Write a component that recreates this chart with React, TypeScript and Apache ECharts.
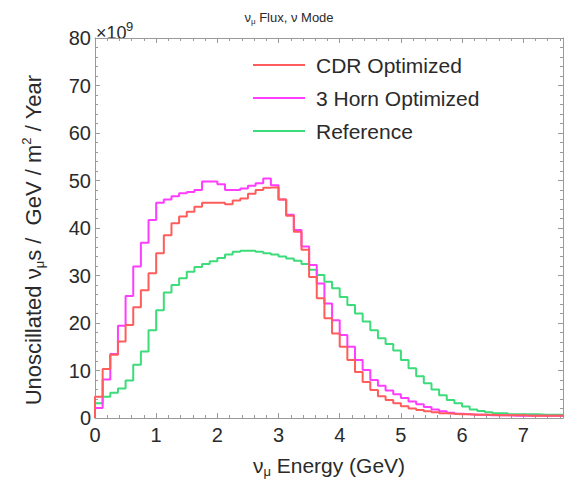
import { useEffect, useRef } from "react";
import * as echarts from "echarts";

const BIN_WIDTH = 0.125;
const X_MIN = 0;
const X_MAX = 7.65;
const Y_MIN = 0;
const Y_MAX = 80;
const xTickLabels = [0, 1, 2, 3, 4, 5, 6, 7];
const yTickLabels = [0, 10, 20, 30, 40, 50, 60, 70, 80];

const seriesNames = ["CDR Optimized", "3 Horn Optimized", "Reference"];
const seriesColors = ["#ff5c5c", "#ff3dff", "#3ddc7a"];

// values in units of 1e9 per bin of 0.125 GeV, starting at 0 GeV
const cdrOptimized = [
  4.5, 10.3, 13.3, 16.1, 19.6, 23.3, 26.9, 30.5, 34.7, 38.5,
  41.0, 42.4, 43.4, 44.5, 45.3, 45.3, 45.3, 45.0, 45.8, 46.2,
  47.2, 48.0, 48.5, 48.6, 46.0, 42.6, 39.2, 35.4, 29.7, 25.2,
  21.0, 17.8, 15.0, 12.2, 9.7, 7.6, 5.9, 4.6, 3.8, 3.1,
  2.5, 2.0, 1.7, 1.4, 1.2, 1.0, 0.9, 0.8, 0.8, 0.7,
  0.7, 0.7, 0.6, 0.6, 0.6, 0.6, 0.5, 0.5, 0.5, 0.5,
  0.5, 0.5,
];
const horn3Optimized = [
  2.1, 8.1, 13.5, 19.4, 25.7, 31.9, 36.9, 41.7, 45.3, 46.0,
  46.7, 47.3, 47.6, 48.0, 49.8, 49.8, 49.2, 48.0, 48.0, 48.3,
  48.9, 49.4, 50.4, 49.0, 46.0, 42.8, 39.6, 36.1, 32.2, 28.3,
  24.1, 20.6, 17.5, 15.0, 12.2, 10.1, 8.0, 6.8, 5.8, 5.0,
  4.2, 3.5, 2.9, 2.3, 1.8, 1.4, 1.1, 0.9, 0.8, 0.7,
  0.7, 0.6, 0.6, 0.6, 0.5, 0.5, 0.5, 0.5, 0.5, 0.5,
  0.5, 0.5,
];
const referenceFlux = [
  3.1, 4.5, 5.3, 6.2, 7.9, 11.2, 14.0, 18.5, 22.7, 26.4,
  28.0, 29.4, 30.8, 31.8, 32.4, 33.0, 33.7, 34.4, 35.0, 35.2,
  35.2, 35.0, 34.7, 34.4, 34.0, 33.6, 33.1, 32.4, 31.2, 30.1,
  28.7, 27.3, 25.5, 23.8, 22.0, 20.3, 18.5, 16.8, 15.6, 14.2,
  12.2, 10.5, 8.8, 7.3, 6.0, 4.8, 3.8, 3.1, 2.4, 1.8,
  1.5, 1.2, 1.0, 1.0, 0.8, 0.8, 0.8, 0.8, 0.7, 0.7,
  0.7, 0.7,
];

function toSteps(vals: number[]): number[][] {
  const pts: number[][] = [[0, 0]];
  vals.forEach((v, i) => pts.push([i * BIN_WIDTH, v]));
  pts.push([vals.length * BIN_WIDTH, vals[vals.length - 1]]);
  return pts;
}

const FONT = "Liberation Sans, Arial, Helvetica, sans-serif";
const AXIS_GRAY = "#9a9a9a";
const TEXT = "#2a2a2a";

export default function App() {
  const ref = useRef<HTMLDivElement>(null);
  useEffect(() => {
    if (!ref.current) return;
    const chart = echarts.init(ref.current, null, { renderer: "svg" });
    const axisCommon = {
      axisLine: { show: true, onZero: false, lineStyle: { color: AXIS_GRAY, width: 1 } },
      axisTick: { show: true, inside: true, length: 5, lineStyle: { color: AXIS_GRAY } },
      minorTick: { show: true, splitNumber: 5, length: 3, lineStyle: { color: AXIS_GRAY } },
      splitLine: { show: false },
      minorSplitLine: { show: false },
    };
    const xFormatter = (v: number) => (xTickLabels.includes(v) ? String(v) : "");
    const yFormatter = (v: number) => (yTickLabels.includes(v) ? String(v) : "");
    const dataSets = [cdrOptimized, horn3Optimized, referenceFlux];
    const drawOrder = [2, 1, 0];
    chart.setOption({
      animation: false,
      backgroundColor: "#ffffff",
      textStyle: { fontFamily: FONT },
      grid: { left: 95, top: 38, width: 470, height: 380, containLabel: false },
      xAxis: [
        {
          type: "value", min: X_MIN, max: X_MAX, interval: 1, position: "bottom",
          ...axisCommon,
          axisLabel: { show: true, formatter: xFormatter, fontSize: 20, color: TEXT, margin: 7, fontFamily: FONT },
        },
        {
          type: "value", min: X_MIN, max: X_MAX, interval: 1, position: "top",
          ...axisCommon,
          axisLabel: { show: false },
        },
      ],
      yAxis: [
        {
          type: "value", min: Y_MIN, max: Y_MAX, interval: 10, position: "left",
          ...axisCommon,
          axisLabel: { show: true, formatter: yFormatter, fontSize: 20, color: TEXT, margin: 4, fontFamily: FONT },
        },
        {
          type: "value", min: Y_MIN, max: Y_MAX, interval: 10, position: "right",
          ...axisCommon,
          axisLabel: { show: false },
        },
      ],
      legend: {
        data: seriesNames,
        orient: "vertical",
        left: 248,
        top: 49,
        icon: "rect",
        itemWidth: 52,
        itemHeight: 2,
        itemGap: 11,
        textStyle: { fontSize: 21, lineHeight: 22, color: TEXT, fontFamily: FONT, padding: [0, 0, 0, 6] },
      },
      series: drawOrder.map((k) => ({
        name: seriesNames[k],
        type: "line",
        step: "end",
        xAxisIndex: 0,
        yAxisIndex: 0,
        showSymbol: false,
        symbol: "none",
        clip: true,
        color: seriesColors[k],
        lineStyle: { color: seriesColors[k], width: 2 },
        data: toSteps(dataSets[k]),
      })),
      graphic: [
        {
          type: "text", x: 289, y: 17,
          style: {
            text: "{a|ν}{s|μ}{a| Flux, ν Mode}",
            align: "center", verticalAlign: "middle", fill: TEXT,
            rich: {
              a: { fontSize: 13, fontFamily: FONT, fill: TEXT, lineHeight: 16, verticalAlign: "middle" },
              s: { fontSize: 8, fontFamily: FONT, fill: TEXT, lineHeight: 16, verticalAlign: "bottom" },
            },
          },
        },
        {
          type: "text", x: 96, y: 24,
          style: { text: "×10", fontSize: 18, fontFamily: FONT, fill: TEXT },
        },
        {
          type: "text", x: 126, y: 20,
          style: { text: "9", fontSize: 13, fontFamily: FONT, fill: TEXT },
        },
        {
          type: "text", x: 33, y: 240, rotation: Math.PI / 2,
          style: {
            text: "{a|Unoscillated ν}{s|μ}{a|s /  GeV / m}{u|2}{a| / Year}",
            align: "center", verticalAlign: "middle", fill: TEXT,
            rich: {
              a: { fontSize: 22, fontFamily: FONT, fill: TEXT, lineHeight: 26, verticalAlign: "middle" },
              s: { fontSize: 13, fontFamily: FONT, fill: TEXT, lineHeight: 26, verticalAlign: "bottom" },
              u: { fontSize: 13, fontFamily: FONT, fill: TEXT, lineHeight: 26, verticalAlign: "top" },
            },
          },
        },
        {
          type: "text", x: 329, y: 465,
          style: {
            text: "{a|ν}{s|μ}{a| Energy (GeV)}",
            align: "center", verticalAlign: "middle", fill: TEXT,
            rich: {
              a: { fontSize: 21, fontFamily: FONT, fill: TEXT, lineHeight: 26, verticalAlign: "middle" },
              s: { fontSize: 13, fontFamily: FONT, fill: TEXT, lineHeight: 26, verticalAlign: "bottom" },
            },
          },
        },
      ],
    });
    return () => chart.dispose();
  }, []);
  return (
    <div
      ref={ref}
      style={{ position: "fixed", left: 0, top: 0, width: 566, height: 483, background: "#fff" }}
    />
  );
}
